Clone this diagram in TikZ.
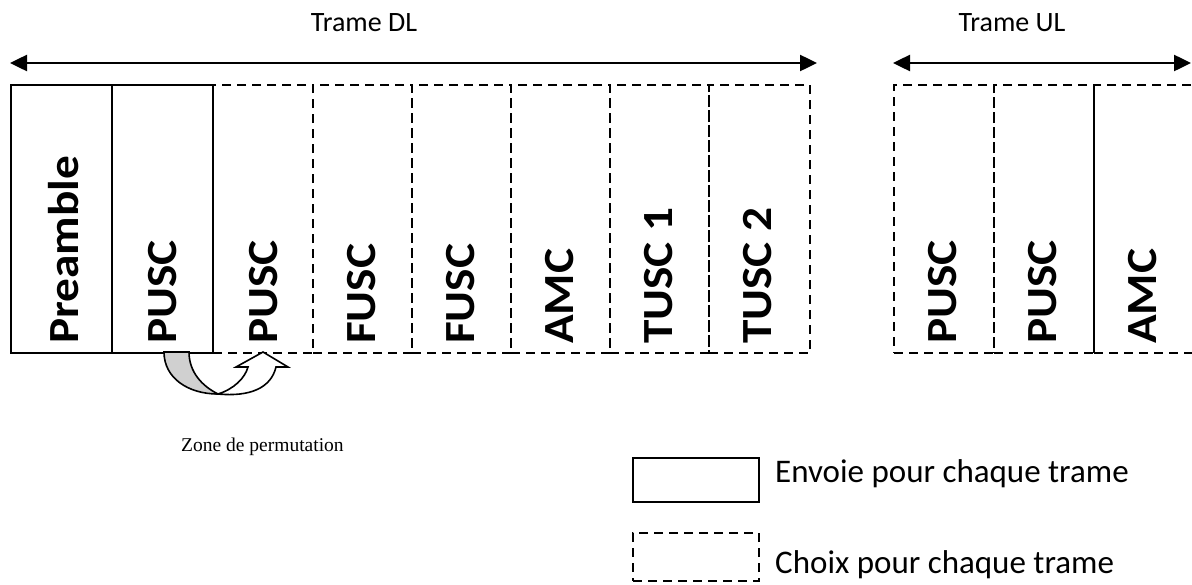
\documentclass[tikz,border=0pt]{standalone}
\usepackage{fontspec}
\usepackage{graphicx}
\setmainfont{Carlito}
\newfontfamily\serifz{Liberation Serif}
\usetikzlibrary{arrows.meta}
\definecolor{bandgray}{RGB}{208,208,208}
\begin{document}
\begin{tikzpicture}[x=1pt,y=-1pt,
  frame/.style={draw, line width=2.2pt, inner sep=0pt, minimum height=268pt, anchor=north west},
  dbox/.style={frame, dash pattern=on 9pt off 6pt},
  lab/.style={rotate=90, anchor=west, inner sep=0pt, font=\bfseries\fontsize{43}{43}\selectfont},
  hdr/.style={font=\fontsize{28}{28}\selectfont, inner sep=0pt},
  leg/.style={font=\fontsize{33}{33}\selectfont, inner sep=0pt, anchor=base west},
  span/.style={line width=2.5pt, {Triangle[length=17pt,width=16pt]}-{Triangle[length=17pt,width=16pt]}},
]
\useasboundingbox (0,0) rectangle (1192,584);
\clip (0,0) rectangle (1192,584);
% DL dashed boxes
\node[dbox, minimum width=100pt] (d3) at (212,84) {};
\node[dbox, minimum width=99pt] (d4) at (312,84) {};
\node[dbox, minimum width=99pt] (d5) at (411,84) {};
\node[dbox, minimum width=99pt] (d6) at (510,84) {};
\node[dbox, minimum width=99pt] (d7) at (609,84) {};
\node[dbox, minimum width=101pt] (d8) at (708,84) {};
% solid boxes
\node[frame, minimum width=101pt] (pre) at (10,84) {};
\node[frame, minimum width=101pt] (p1) at (111,84) {};
% UL boxes
\node[dbox, minimum width=100pt] (u1) at (893,84) {};
\node[dbox, minimum width=100pt] (u2) at (993,84) {};
\node[dbox, minimum width=102pt] (u3) at (1093,84) {};
% labels
\node[lab] (tpre) at (64,344) {\scalebox{1.1}[1]{Preamble}};
\node[lab] (tp1) at (163,344) {\scalebox{1.1}[1]{PUSC}};
\node[lab] (td3) at (264,344) {\scalebox{1.1}[1]{PUSC}};
\node[lab] (td4) at (362,344) {\scalebox{1.1}[1]{FUSC}};
\node[lab] (td5) at (461,344) {\scalebox{1.1}[1]{FUSC}};
\node[lab] (td6) at (560,344) {\scalebox{1.1}[1]{AMC}};
\node[lab] (td7) at (659,344) {\scalebox{1.1}[1]{TUSC 1}};
\node[lab] (td8) at (758,344) {\scalebox{1.1}[1]{TUSC 2}};
\node[lab] (tu1) at (943,344) {\scalebox{1.1}[1]{PUSC}};
\node[lab] (tu2) at (1043,344) {\scalebox{1.1}[1]{PUSC}};
\node[lab] (tu3) at (1143,344) {\scalebox{1.1}[1]{AMC}};
% span arrows
\coordinate (dlL) at (10,63);
\coordinate (dlR) at (817,63);
\coordinate (ulL) at (893,63);
\coordinate (ulR) at (1191,63);
\draw[span] (dlL) -- (dlR);
\draw[span] (ulL) -- (ulR);
\node[hdr] (hdl) at (364,23) {Trame DL};
\node[hdr] (hul) at (1012,23) {Trame UL};
% curved permutation arrow
\draw[line width=1.6pt, fill=bandgray]
  (164,352) .. controls (164,378) and (188,394) .. (218,394)
  .. controls (202,386) and (189,372) .. (189,352) -- cycle;
\draw[line width=1.6pt, fill=white, line join=miter]
  (218,394) .. controls (234,389) and (245,378) .. (248,367)
  -- (236,367) -- (263,352) -- (288,367) -- (276,367)
  .. controls (271,388) and (250,397) .. (218,394) -- cycle;
\node[font=\serifz\fontsize{19.5}{19.5}\selectfont, inner sep=0pt, anchor=base west] (zone) at (181,451) {Zone de permutation};
% legend
\node[frame, minimum width=126pt, minimum height=44pt] (lsolid) at (632,457) {};
\node[dbox, minimum width=126pt, minimum height=48pt] (ldash) at (632,532) {};
\node[leg] (tsolid) at (775,482) {Envoie pour chaque trame};
\node[leg] (tdash) at (775,573) {Choix pour chaque trame};
\end{tikzpicture}
\end{document}
